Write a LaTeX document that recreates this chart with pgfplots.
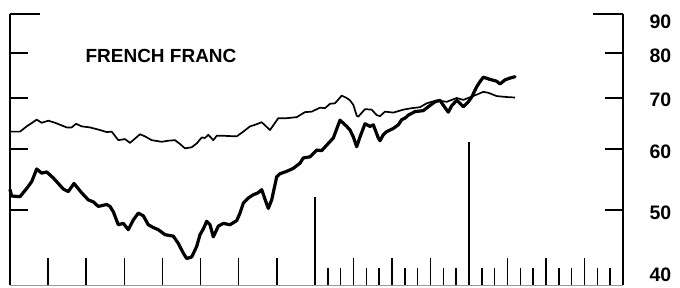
\documentclass[border=0pt]{standalone}
\usepackage{fontspec}
\setmainfont{Liberation Sans}
\usepackage{pgfplots}
\pgfplotsset{compat=1.18}
\pgfplotstableread{
x y
10 63.3
20 63.3
26.7 64.3
36.7 65.6
41.7 65.0
48.3 65.4
55 65.0
66.7 64.1
71.7 64.1
76 64.8
81.7 64.3
90 64.1
100 63.6
106.7 63.2
111.7 63.3
118.3 61.7
125 61.9
130 61.2
140 62.8
145 62.4
151.7 61.7
161.7 61.4
168.3 61.6
175 61.7
180 61.0
185 60.2
191.7 60.4
196.7 61.1
201.7 62.2
205 62.1
208.3 62.7
213.3 61.7
216.7 62.5
225 62.5
236.7 62.4
243.3 63.3
250 64.3
255 64.6
261.7 65.1
270 63.6
278.3 65.9
286.7 65.9
296.7 66.1
305 67.1
311.7 67.2
320 68.0
325 67.9
330 68.8
335 68.9
341.7 70.5
346.7 70.0
350 69.5
353.3 68.6
356.7 66.4
358.3 66.2
365 67.7
371.7 67.6
376.7 66.5
380 66.3
385 67.2
393.3 67.0
403.3 67.6
411.7 67.9
420 68.1
426.7 68.9
436.7 69.5
446.7 69.2
456.7 70.0
463.3 69.6
471.7 70.3
476.7 70.7
483.3 71.3
488.3 71.1
496.7 70.4
506.7 70.2
515 70.1
}\thinline
\pgfplotstableread{
x y
10 53.2
11.7 52.2
20 52.1
26.7 53.4
31.7 54.5
36.7 56.6
41.7 55.9
46.7 56.1
53.3 55.1
58.3 54.2
63.3 53.3
68.3 52.9
74 54.2
81.7 52.7
88.3 51.6
93.3 51.3
98.3 50.6
106.7 50.9
110 50.6
113.3 49.8
118.3 47.9
123.3 48.1
128.3 47.2
133.3 48.6
138.3 49.6
143.3 49.2
148.3 47.9
153.3 47.5
158.3 47.2
165 46.5
173.3 46.3
178.3 45.3
183.3 44.0
186.7 43.3
191.7 43.5
196.7 44.9
200 46.5
203.3 47.3
206.7 48.4
210 47.9
213.3 46.2
218.3 47.7
223.3 48.1
230 47.9
236.7 48.5
240 49.6
243.3 51.1
248.3 51.9
253.3 52.4
258 52.7
261.7 53.2
265 51.7
268.3 50.3
271.7 51.6
276.7 55.3
280 55.8
286.7 56.2
293.3 56.7
300 57.6
303.3 58.5
310 58.7
316.7 59.9
321.7 59.8
328.3 61.1
333.3 62.1
340 65.5
346.7 64.3
350 63.6
353.3 62.3
356.7 60.5
360 62.3
365 64.8
370 64.3
373.3 64.6
378.3 62.1
380 61.6
383.3 62.7
386.7 63.3
393.3 63.9
398.3 64.6
401.7 65.6
405 65.9
408.3 66.5
415 67.2
423.3 67.4
428.3 68.2
435 69.2
440 69.5
445 68.0
448.3 67.1
451.7 68.4
456.7 69.5
460 68.9
463.3 68.2
468.3 69.2
471.7 70.2
476.7 72.4
480 73.5
483.3 74.5
490 74.0
496.7 73.6
500 73.0
505 73.9
510 74.3
515 74.6
}\thickline
\begin{document}
\begin{tikzpicture}[x=1pt,y=1pt]
\begin{axis}[
  at={(0,0)}, anchor=south west,
  width=613pt, height=271pt, scale only axis,
  xmin=10, xmax=623, ymode=log, ymin=40, ymax=90,
  axis x line=none, axis y line*=box,
  y axis line style={line width=2pt, black},
  xtick=\empty,
  ytick={50,60,70,80}, yticklabels={50,60,70,80},
  extra y ticks={90}, extra y tick labels={90},
  extra y tick style={major tick length=30pt, yticklabel style={yshift=-6pt}},
  ytick pos=both, yticklabel pos=right, tick align=inside,
  major tick length=18pt,
  y tick style={line width=2pt, black},
  yticklabel style={font=\fontsize{19.5}{20}\selectfont\bfseries, anchor=west, xshift=23pt, yshift=-2pt},
  clip=false,
]
\addplot[black, line width=1.7pt, line join=round, no markers] table {\thinline};
\addplot[black, line width=3.2pt, line join=round, line cap=round, no markers] table {\thickline};
\addplot[black, line width=1.3pt, no markers] coordinates {(315,40) (315,52.1)};
\addplot[black, line width=1.3pt, no markers] coordinates {(469,40) (469,61.4)};
\node[font=\fontsize{19}{20}\selectfont\bfseries] at (axis cs:161,79.5) {FRENCH FRANC};
\end{axis}
\begin{axis}[
  at={(0,0)}, anchor=south west,
  width=613pt, height=271pt, scale only axis,
  xmin=10, xmax=623, ymode=log, ymin=40, ymax=90,
  axis y line*=right, y axis line style={draw=none},
  axis x line*=bottom,
  x axis line style={draw=black!40, line width=0.8pt},
  ytick={40}, yticklabels={40},
  y tick style={draw=none},
  yticklabel style={font=\fontsize{19.5}{20}\selectfont\bfseries, anchor=west, inner ysep=0pt, xshift=23pt, yshift=10pt},
  xtick={47.95,86.1,124.25,162.4,200.55,238.7,276.85,353.5,392,430.5,507.5,546,584.5},
  minor xtick={327.8,340.7,366.3,379.2,404.8,417.7,443.3,456.2,481.8,494.7,520.3,533.2,558.8,571.7,597.3,610.2},
  xticklabels={},
  major tick length=27pt, minor tick length=17pt, tick align=inside,
  x tick style={line width=1.5pt, black},
]
\end{axis}
\pgfresetboundingbox
\path[use as bounding box] (-10,-2) rectangle (670,285);
\end{tikzpicture}
\end{document}
